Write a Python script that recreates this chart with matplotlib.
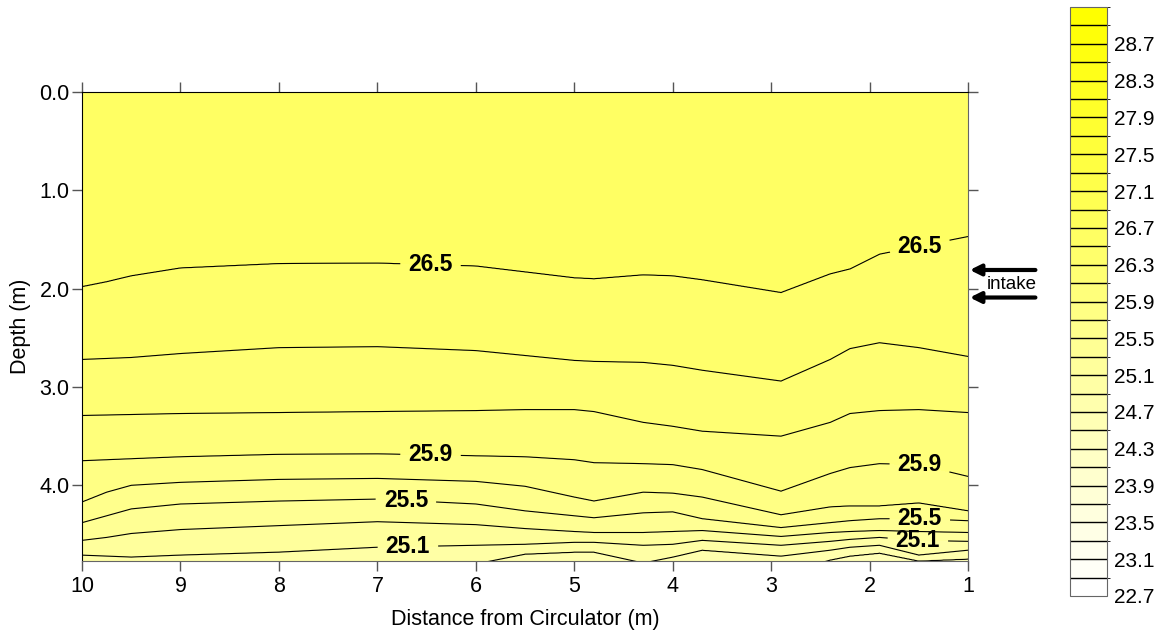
import numpy as np
import matplotlib
matplotlib.use("Agg")
import matplotlib.pyplot as plt
from matplotlib.colors import ListedColormap, BoundaryNorm

plt.rcParams['font.family'] = ['Liberation Sans', 'DejaVu Sans']

# distance stations (m) where the isotherm depths were taken
distance = [10, 9.75, 9.5, 9, 8, 7, 6, 5.5, 5, 4.8, 4.3, 4, 3.7, 2.9, 2.4, 2.2, 1.9, 1.5, 1]

# depth (m) of each isotherm at the stations above; values > 4.77 lie below the bottom
depth_265 = [1.98, 1.93, 1.87, 1.79, 1.745, 1.74, 1.77, 1.83, 1.89, 1.90, 1.86, 1.87, 1.91, 2.04, 1.85, 1.80, 1.65, 1.57, 1.47]
depth_263 = [2.72, 2.71, 2.70, 2.66, 2.60, 2.59, 2.63, 2.68, 2.73, 2.74, 2.75, 2.78, 2.83, 2.94, 2.72, 2.61, 2.55, 2.60, 2.69]
depth_261 = [3.29, 3.285, 3.28, 3.27, 3.26, 3.25, 3.24, 3.23, 3.23, 3.25, 3.36, 3.40, 3.45, 3.50, 3.36, 3.27, 3.24, 3.23, 3.26]
depth_259 = [3.75, 3.74, 3.73, 3.71, 3.685, 3.68, 3.70, 3.71, 3.74, 3.77, 3.78, 3.79, 3.84, 4.06, 3.88, 3.82, 3.78, 3.79, 3.91]
depth_257 = [4.17, 4.07, 4.00, 3.97, 3.94, 3.93, 3.96, 4.01, 4.12, 4.16, 4.07, 4.08, 4.12, 4.30, 4.22, 4.21, 4.21, 4.18, 4.26]
depth_255 = [4.38, 4.31, 4.24, 4.19, 4.16, 4.14, 4.19, 4.26, 4.31, 4.33, 4.28, 4.27, 4.34, 4.43, 4.38, 4.36, 4.34, 4.34, 4.36]
depth_253 = [4.56, 4.53, 4.49, 4.45, 4.41, 4.37, 4.40, 4.44, 4.47, 4.48, 4.48, 4.47, 4.46, 4.52, 4.48, 4.47, 4.46, 4.47, 4.48]
depth_251 = [4.71, 4.72, 4.73, 4.71, 4.68, 4.63, 4.61, 4.60, 4.58, 4.58, 4.61, 4.60, 4.56, 4.61, 4.57, 4.55, 4.53, 4.56, 4.57]
depth_249 = [4.90, 4.90, 4.90, 4.88, 4.86, 4.82, 4.80, 4.70, 4.68, 4.68, 4.79, 4.73, 4.66, 4.72, 4.66, 4.63, 4.61, 4.71, 4.66]
depth_247 = [5.00, 5.00, 5.00, 5.00, 5.00, 5.00, 5.00, 5.00, 5.00, 5.00, 5.00, 5.00, 4.95, 4.90, 4.76, 4.72, 4.69, 4.77, 4.75]

isotherms = [26.5, 26.3, 26.1, 25.9, 25.7, 25.5, 25.3, 25.1, 24.9, 24.7]
surface_temp = 26.65
deep_temp = 24.3
labelled = [25.1, 25.5, 25.9, 26.5]

max_depth = 4.77

# temperature grid: isotherm depths run straight between stations,
# temperature is linear in depth between isotherms
depth_table = np.array([depth_265, depth_263, depth_261, depth_259, depth_257,
                        depth_255, depth_253, depth_251, depth_249, depth_247])
xf = np.linspace(1, 10, 901)
zz = np.linspace(0, 5.5, 1101)
temp_knots = [surface_temp] + isotherms + [deep_temp]
T = np.empty((len(zz), len(xf)))
for j, xv in enumerate(xf):
    dk = [np.interp(xv, distance[::-1], row[::-1]) for row in depth_table]
    T[:, j] = np.interp(zz, [0.0] + dk + [5.5], temp_knots)

# 0.2 degree bands from 22.7 to 29.1, white -> yellow
levels = np.round(np.arange(22.7, 29.11, 0.2), 1)
n_bands = len(levels) - 1
band_colors = [(1.0, 1.0, 1.0 - i / (n_bands - 1)) for i in range(n_bands)]
cmap = ListedColormap(band_colors)
norm = BoundaryNorm(levels, n_bands)

fig = plt.figure(figsize=(11.62, 6.36), dpi=100)
ax = fig.add_axes([0.0706, 0.1179, 0.7625, 0.7374])

cf = ax.contourf(xf, zz, T, levels=levels, cmap=cmap, norm=norm)
plain = sorted(v for v in isotherms if v not in labelled)
ax.contour(xf, zz, T, levels=plain, colors='black', linewidths=0.8)
cs = ax.contour(xf, zz, T, levels=labelled, colors='black', linewidths=0.8)

label_pos = [(6.46, 1.74), (1.49, 1.57), (6.46, 3.69), (1.49, 3.79),
             (6.71, 4.14), (1.49, 4.34), (6.69, 4.62), (1.51, 4.56)]
texts = cs.clabel(manual=label_pos, fmt='%.1f', fontsize=16.5, inline=True, inline_spacing=8)
for t in texts:
    t.set_rotation(0)
    t.set_fontweight('bold')

ax.set_xlim(10, 1)
ax.set_ylim(max_depth, 0)
ax.set_xticks(range(10, 0, -1))
ax.set_xticklabels([str(v) for v in range(10, 0, -1)])
ax.set_yticks([0, 1, 2, 3, 4])
ax.set_yticklabels(['0.0', '1.0', '2.0', '3.0', '4.0'])
ax.tick_params(direction='out', length=7.5, width=1, top=True, right=True,
               labeltop=False, labelright=False, labelsize=15.5, color='#555555', pad=1.5)
ax.tick_params(axis='x', pad=3)
for side in ['left', 'top']:
    ax.spines[side].set_color('black')
for side in ['bottom', 'right']:
    ax.spines[side].set_color('#666666')

ax.set_xlabel('Distance from Circulator (m)', fontsize=15.5, labelpad=9)
ax.set_ylabel('Depth (m)', fontsize=15.5, labelpad=6)

# intake arrows beside the right edge
for d in [1.81, 2.09]:
    ax.annotate('', xy=(1.002, d), xytext=(1.076, d),
                xycoords=('axes fraction', 'data'), textcoords=('axes fraction', 'data'),
                arrowprops=dict(arrowstyle='-|>', lw=3, color='black', mutation_scale=16,
                                shrinkA=0, shrinkB=0), annotation_clip=False)
ax.text(1.021, 1.96, 'intake', transform=ax.get_yaxis_transform(), fontsize=13.5,
        va='center', ha='left', clip_on=False)

cax = fig.add_axes([0.9208, 0.0629, 0.0318, 0.926])
cb = fig.colorbar(cf, cax=cax, drawedges=True, ticks=np.round(np.arange(22.7, 28.8, 0.4), 1))
cb.ax.set_yticklabels(['%.1f' % v for v in np.arange(22.7, 28.8, 0.4)])
cb.dividers.set_color('black')
cb.dividers.set_linewidth(1)
cb.outline.set_edgecolor('#666666')
cax.tick_params(length=0, labelsize=15, pad=5)

fig.savefig('out.png', dpi=100)
